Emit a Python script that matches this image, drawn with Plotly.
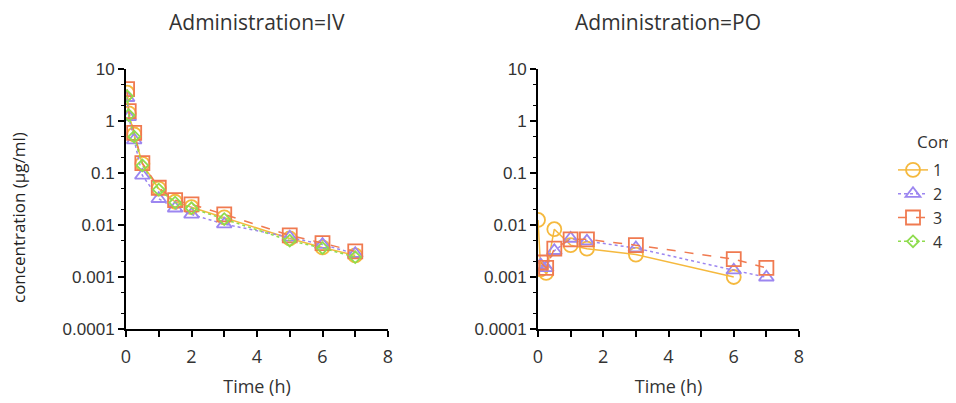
import plotly.graph_objects as go

# ---- data ----
compounds = ["1", "2", "3", "4"]
iv_time = [0.033, 0.083, 0.25, 0.5, 1, 1.5, 2, 3, 5, 6, 7]
iv_conc = {
    "1": [3.5, 1.4, 0.55, 0.15, 0.05, 0.028, 0.022, 0.014, 0.0055, 0.0037, 0.0026],
    "2": [2.8, 1.2, 0.43, 0.09, 0.032, 0.021, 0.016, 0.0104, 0.0058, 0.0042, 0.0028],
    "3": [4.1, 1.55, 0.59, 0.155, 0.052, 0.030, 0.025, 0.016, 0.0063, 0.0045, 0.0031],
    "4": [3.0, 1.3, 0.5, 0.14, 0.048, 0.027, 0.021, 0.013, 0.005, 0.0036, 0.0024],
}
po_time = {
    "1": [0, 0.083, 0.25, 0.5, 1, 1.5, 3, 6],
    "2": [0.083, 0.25, 0.5, 1, 1.5, 3, 6, 7],
    "3": [0.083, 0.25, 0.5, 1, 1.5, 3, 6, 7],
}
po_conc = {
    "1": [0.0125, 0.0014, 0.0012, 0.0083, 0.0041, 0.0035, 0.0027, 0.0010],
    "2": [0.0017, 0.0015, 0.0032, 0.0055, 0.0049, 0.0036, 0.00135, 0.00099],
    "3": [0.0019, 0.0015, 0.0035, 0.0053, 0.0053, 0.0041, 0.0022, 0.0015],
}
y_tickvals = [0.0001, 0.001, 0.01, 0.1, 1, 10]
y_ticktext = ["0.0001", "0.001", "0.01", "0.1", "1", "10"]
x_tickvals = [0, 2, 4, 6, 8]
panel_titles = ["Administration=IV", "Administration=PO"]
legend_title = "Compound"

# ---- styles ----
colors = {"1": "#F5B93E", "2": "#9C86F0", "3": "#F07A50", "4": "#8FDC4E"}
dashes = {"1": "solid", "2": "dot", "3": "dash", "4": "dot"}
symbols = {"1": "circle-open", "2": "triangle-up-open", "3": "square-open", "4": "diamond-open"}
sizes = {"1": 14, "2": 13, "3": 14, "4": 9}

fig = go.Figure()
for c in compounds:
    fig.add_trace(go.Scatter(
        x=iv_time, y=iv_conc[c], mode="lines+markers", name=c, legendgroup=c,
        line=dict(color=colors[c], width=1.5, dash=dashes[c]),
        marker=dict(symbol=symbols[c], size=sizes[c], color=colors[c], line=dict(width=1.8, color=colors[c])),
        xaxis="x", yaxis="y", showlegend=True,
    ))
for c in ["1", "2", "3"]:
    fig.add_trace(go.Scatter(
        x=po_time[c], y=po_conc[c], mode="lines+markers", name=c, legendgroup=c,
        line=dict(color=colors[c], width=1.5, dash=dashes[c]),
        marker=dict(symbol=symbols[c], size=sizes[c], color=colors[c], line=dict(width=1.8, color=colors[c])),
        xaxis="x2", yaxis="y2", showlegend=False,
    ))

W, H = 956, 403
OFF = 8  # page body margin
TOP, BOT = 69 - OFF, 329 - OFF
PH = BOT - TOP

def py(ypx):
    return (BOT - (ypx - OFF)) / PH

def px(xpx):
    return (xpx - OFF) / W

tick_font = dict(family="Liberation Sans, Arial", size=17, color="#333333")
xtick_font = dict(family="Open Sans", size=18, color="#333333")

def xaxis(dom, anchor):
    return dict(domain=dom, anchor=anchor, range=[0, 8], tickvals=x_tickvals,
                showline=True, linecolor="black", linewidth=2, ticks="outside",
                ticklen=6, tickwidth=1.5, tickcolor="black", showgrid=False, zeroline=False,
                tickfont=xtick_font, automargin=False, ticklabelstandoff=4,
                minor=dict(dtick=1, ticks="outside", ticklen=6, tickwidth=1.5, tickcolor="black", showgrid=False),
                title=dict(text="Time (h)", font=dict(family="Open Sans", size=18, color="#333333"), standoff=14))

def yaxis(anchor):
    return dict(domain=[0, 1], anchor=anchor, type="log", range=[-4, 1],
                tickvals=y_tickvals, ticktext=y_ticktext,
                showline=True, linecolor="black", linewidth=2, ticks="outside",
                ticklen=6, tickwidth=1.5, tickcolor="black", showgrid=False, zeroline=False,
                tickfont=tick_font, automargin=False,
                minor=dict(ticks="outside", ticklen=3, tickwidth=1, tickcolor="black", showgrid=False))

fig.update_layout(
    width=W, height=H,
    margin=dict(l=0, r=0, t=TOP, b=H - BOT, autoexpand=False),
    paper_bgcolor="white", plot_bgcolor="white",
    xaxis=xaxis([px(126), px(388)], "y"),
    yaxis=yaxis("x"),
    xaxis2=xaxis([px(538), px(799)], "y2"),
    yaxis2=yaxis("x2"),
    legend=dict(x=px(893), y=py(153), xanchor="left", yanchor="top",
                font=dict(family="Open Sans", size=16, color="#333333"),
                tracegroupgap=0, bgcolor="rgba(0,0,0,0)"),
    annotations=[
        dict(text=panel_titles[0], x=px(257), y=py(22), xref="paper", yref="paper", showarrow=False,
             xanchor="center", yanchor="middle", font=dict(family="Open Sans", size=21, color="#333333")),
        dict(text=panel_titles[1], x=px(668), y=py(22), xref="paper", yref="paper", showarrow=False,
             xanchor="center", yanchor="middle", font=dict(family="Open Sans", size=21, color="#333333")),
        dict(text="concentration (µg/ml)", textangle=-90, x=px(18), y=py(218), xref="paper", yref="paper",
             showarrow=False, xanchor="center", yanchor="middle",
             font=dict(family="Open Sans", size=17, color="#222222")),
        dict(text=legend_title, x=px(915), y=py(141), xref="paper", yref="paper", showarrow=False,
             xanchor="left", yanchor="middle", font=dict(family="Open Sans", size=17, color="#333333")),
    ],
)

fig.write_html("out.html")
